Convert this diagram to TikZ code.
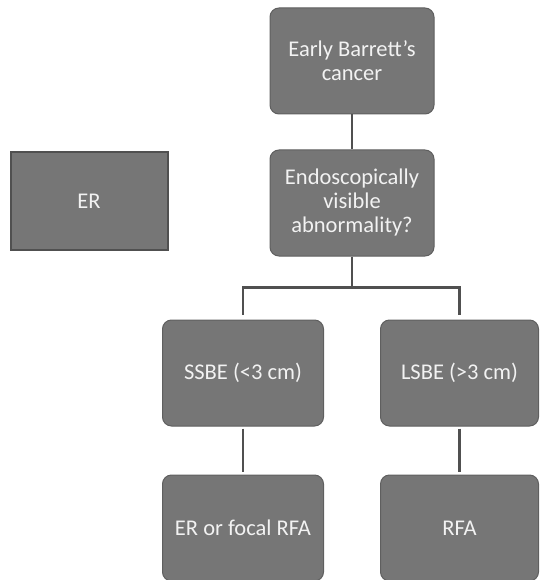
\documentclass[tikz,border=0pt]{standalone}
\usepackage{fontspec}
\setmainfont{Carlito}
\usepackage{tikz}
\usetikzlibrary{positioning}
\definecolor{boxgray}{RGB}{118,118,118}
\definecolor{edgegray}{RGB}{95,95,95}
\definecolor{linegray}{RGB}{80,80,80}
\definecolor{textwhite}{RGB}{242,242,242}

\begin{document}
\begin{tikzpicture}[x=1pt, y=1pt,
    box/.style={rectangle, rounded corners=9pt, draw=edgegray, line width=1pt, fill=boxgray, minimum width=164pt, minimum height=106pt, align=center, text=textwhite, font=\fontsize{22.5}{24}\selectfont},
    erbox/.style={rectangle, draw=linegray, line width=2pt, fill=boxgray, minimum width=157pt, minimum height=97pt, align=center, text=textwhite, font=\fontsize{22.5}{24}\selectfont},
    link/.style={draw=linegray, line width=2.2pt}
]
\useasboundingbox (0,0) rectangle (539,-580);

\node[box] (cancer) at (352,-61) {Early Barrett's\\cancer};
\node[box, below=35pt of cancer] (visible) {Endoscopically\\visible\\abnormality?};
\node[erbox] (er) at (89,-201) {ER};

\node[box, minimum width=161pt] (ssbe) at (243,-373) {SSBE (<3 cm)};
\node[box, minimum width=158pt, right=56pt of ssbe] (lsbe) {LSBE (>3 cm)};
\node[box, minimum width=161pt, below=48pt of ssbe] (erfocal) {ER or focal RFA};
\node[box, minimum width=158pt, below=48pt of lsbe] (rfa) {RFA};

\draw[link] (cancer) -- (visible);
\draw[link, shorten >=5pt] (visible.south) -- ++(0,-31) -| (ssbe.north);
\draw[link, shorten >=5pt] (visible.south) -- ++(0,-31) -| (lsbe.north);
\draw[link, shorten <=2pt, shorten >=3pt] (ssbe) -- (erfocal);
\draw[link, shorten <=2pt, shorten >=3pt] (lsbe) -- (rfa);

\end{tikzpicture}
\end{document}
